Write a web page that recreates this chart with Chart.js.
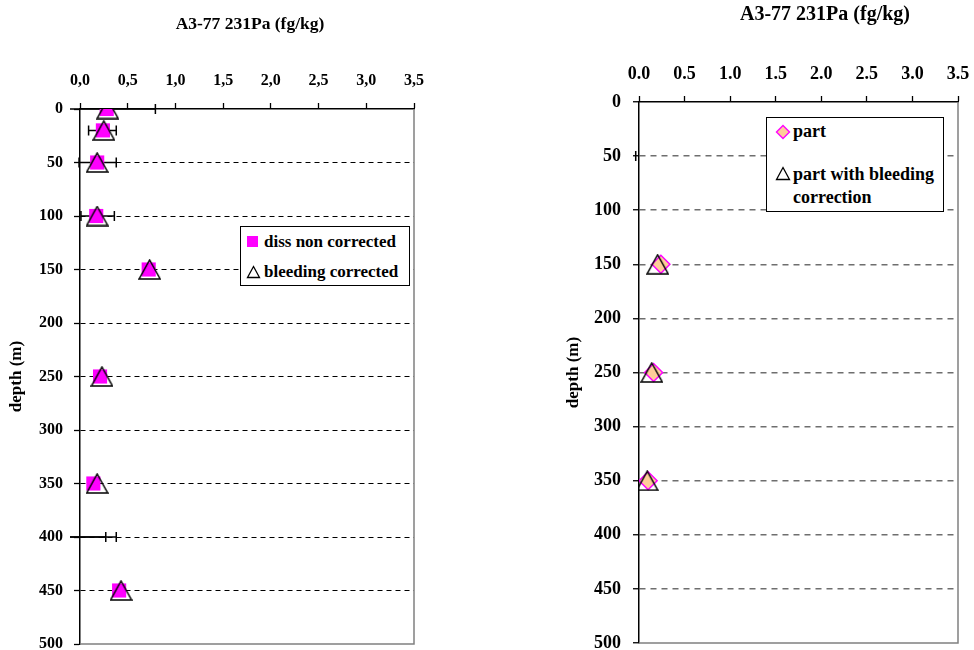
<!DOCTYPE html>
<html>
<head>
<meta charset="utf-8">
<script src="https://cdn.jsdelivr.net/npm/chart.js@4.4.1/dist/chart.umd.min.js"></script>
<style>
  body { margin: 0; background: #fff; width: 974px; height: 650px; position: relative; overflow: hidden; font-family: "Liberation Serif", "Times New Roman", serif; font-weight: bold; color: #000; }
  .box { position: absolute; }
  .title { position: absolute; white-space: nowrap; line-height: 20px; transform: translateX(-50%); }
  .legend { position: absolute; border: 1px solid #000; background: #fff; box-sizing: border-box; }
  .lg-text { position: absolute; white-space: nowrap; }
  .lg-mark { position: absolute; }
</style>
</head>
<body>
<div class="box" style="left:0;top:0;width:430px;height:657px"><canvas id="leftChart" width="430" height="657"></canvas></div>
<div class="box" style="left:560px;top:0;width:414px;height:656px"><canvas id="rightChart" width="414" height="656"></canvas></div>

<div class="title" style="left:250px;top:13px;font-size:17.5px">A3-77 231Pa (fg/kg)</div>
<div class="title" style="left:825px;top:3px;font-size:20px">A3-77 231Pa (fg/kg)</div>

<!-- left legend -->
<div class="legend" style="left:240px;top:226px;width:170px;height:60px"></div>
<svg class="lg-mark" style="left:247px;top:236px" width="12" height="12"><rect x="0" y="0" width="11" height="11" fill="#ff00ff"/></svg>
<div class="lg-text" style="left:264px;top:231px;font-size:17px;line-height:21px">diss non corrected</div>
<svg class="lg-mark" style="left:246px;top:265px" width="15" height="14"><polygon points="7.5,1.5 13.5,12.5 1.5,12.5" fill="none" stroke="#000" stroke-width="1.3"/></svg>
<div class="lg-text" style="left:264px;top:261px;font-size:17px;line-height:21px">bleeding corrected</div>

<!-- right legend -->
<div class="legend" style="left:766px;top:117px;width:178px;height:95px"></div>
<svg class="lg-mark" style="left:775px;top:124px" width="16" height="16"><polygon points="8,1.5 14.5,8 8,14.5 1.5,8" fill="#ffcc99" stroke="#ff00ff" stroke-width="1.4"/></svg>
<div class="lg-text" style="left:793px;top:120px;font-size:18px;line-height:23px">part</div>
<svg class="lg-mark" style="left:775px;top:166px" width="16" height="15"><polygon points="8,1.5 14.5,13.5 1.5,13.5" fill="none" stroke="#000" stroke-width="1.3"/></svg>
<div class="lg-text" style="left:793px;top:163px;font-size:18px;line-height:23px">part with bleeding<br>correction</div>

<script>
// ---- left panel: dissolved 231Pa ----
const leftDepth = [0, 20, 50, 100, 150, 250, 350, 450];
const dissNonCorrected = [0.28, 0.24, 0.18, 0.17, 0.72, 0.21, 0.14, 0.41];
const bleedingCorrected = [0.29, 0.25, 0.18, 0.18, 0.73, 0.23, 0.18, 0.43];

// error bars (left panel)
const errDepth = [0, 20, 50, 100, 400, 400];
const errLow = [-0.5, 0.09, -0.01, 0.01, -0.5, -0.5];
const errHigh = [0.79, 0.38, 0.38, 0.36, 0.27, 0.38];

// ---- right panel: particulate 231Pa ----
const rightDepth = [150, 250, 350];
const partValues = [0.24, 0.16, 0.10];
const partBleedValues = [0.205, 0.14, 0.09];
const rightErrDepth = [50];
const rightErrLow = [-0.036];
const rightErrHigh = [-0.036];

// axis tick labels
const leftXTicks = ['0,0', '0,5', '1,0', '1,5', '2,0', '2,5', '3,0', '3,5'];
const rightXTicks = ['0.0', '0.5', '1.0', '1.5', '2.0', '2.5', '3.0', '3.5'];

const serif = "'Liberation Serif', 'Times New Roman', serif";

function toPoints(xs, ys) {
  return ys.map((d, i) => ({ x: xs[i], y: d }));
}

// open triangle marker, centred on the point (Excel style)
function triangleMarker(w, h) {
  const c = document.createElement('canvas');
  c.width = w + 2;
  c.height = h + 2;
  const g = c.getContext('2d');
  g.strokeStyle = '#000';
  g.lineWidth = 1.5;
  g.beginPath();
  g.moveTo(c.width / 2, 1);
  g.lineTo(c.width - 1, c.height - 1);
  g.lineTo(1, c.height - 1);
  g.closePath();
  g.stroke();
  return c;
}
const triMark = triangleMarker(21, 19);

// horizontal error bars, drawn under the markers
const errorBarPlugin = {
  id: 'errorBars',
  beforeDatasetsDraw(chart, args, opts) {
    if (!opts || !opts.depth) return;
    const { ctx, chartArea, scales } = chart;
    const xs = scales.x, ys = scales.y;
    ctx.save();
    ctx.beginPath();
    ctx.rect(chartArea.left - 10, chartArea.top - 12, chartArea.right - chartArea.left + 20, chartArea.bottom - chartArea.top + 24);
    ctx.clip();
    ctx.strokeStyle = '#000';
    ctx.lineWidth = 1.5;
    opts.depth.forEach((d, i) => {
      const py = ys.getPixelForValue(d);
      const x1 = xs.getPixelForValue(opts.low[i]);
      const x2 = xs.getPixelForValue(opts.high[i]);
      ctx.beginPath();
      ctx.moveTo(x1, py); ctx.lineTo(x2, py);
      ctx.moveTo(x1, py - opts.cap); ctx.lineTo(x1, py + opts.cap);
      ctx.moveTo(x2, py - opts.cap); ctx.lineTo(x2, py + opts.cap);
      ctx.stroke();
    });
    ctx.restore();
  }
};

// grey right/bottom frame of the plot area
const framePlugin = {
  id: 'frame',
  beforeDatasetsDraw(chart) {
    const { ctx, chartArea: a } = chart;
    ctx.save();
    ctx.strokeStyle = '#808080';
    ctx.lineWidth = 1.5;
    ctx.beginPath();
    ctx.moveTo(a.right, a.top);
    ctx.lineTo(a.right, a.bottom);
    ctx.lineTo(a.left, a.bottom);
    ctx.stroke();
    ctx.restore();
  }
};

function makeOptions(cfg) {
  return {
    responsive: false,
    animation: false,
    devicePixelRatio: 1,
    layout: { padding: { left: 0, right: cfg.padRight, top: 0, bottom: cfg.padBottom } },
    plugins: {
      legend: { display: false },
      tooltip: { enabled: false },
      title: { display: false },
      errorBars: { depth: cfg.errDepth, low: cfg.errLow, high: cfg.errHigh, cap: 5 }
    },
    scales: {
      x: {
        type: 'linear',
        position: 'top',
        min: 0,
        max: 3.5,
        afterFit: s => { s.height = cfg.xHeight; s.paddingLeft = 0; s.paddingRight = 0; },
        ticks: {
          stepSize: 0.5,
          color: '#000',
          padding: cfg.xPad,
          maxRotation: 0,
          font: { family: serif, size: cfg.tickSize, weight: 'bold' },
          callback: (v, i) => cfg.xLabels[i]
        },
        grid: { drawOnChartArea: false, drawTicks: true, tickLength: 6, tickColor: '#000', tickWidth: 1.3 },
        border: { display: true, color: '#000', width: 1.5 }
      },
      y: {
        type: 'linear',
        reverse: true,
        min: 0,
        max: 500,
        afterFit: s => { s.width = cfg.yWidth; s.paddingTop = 0; s.paddingBottom = 0; },
        ticks: {
          stepSize: 50,
          color: '#000',
          padding: cfg.yPad,
          font: { family: serif, size: cfg.tickSize, weight: 'bold' }
        },
        grid: {
          color: c => (c.tick && (c.tick.value === 0 || c.tick.value === 500)) ? 'rgba(0,0,0,0)' : cfg.gridColor,
          lineWidth: cfg.gridWidth,
          tickLength: 6,
          tickColor: '#000',
          tickWidth: 1.3
        },
        border: { display: true, color: '#000', width: 1.5, dash: cfg.dash },
        title: {
          display: true,
          text: 'depth (m)',
          color: '#000',
          padding: { top: cfg.titlePad, bottom: 0 },
          font: { family: serif, size: 17, weight: 'bold' }
        }
      }
    }
  };
}

new Chart(document.getElementById('leftChart').getContext('2d'), {
  type: 'scatter',
  data: {
    datasets: [
      {
        label: 'bleeding corrected',
        data: toPoints(bleedingCorrected, leftDepth),
        pointStyle: triMark,
        pointRadius: 12,
        order: 0
      },
      {
        label: 'diss non corrected',
        data: toPoints(dissNonCorrected, leftDepth),
        pointStyle: 'rect',
        pointRadius: 10,
        backgroundColor: '#ff00ff',
        borderColor: '#ff00ff',
        borderWidth: 0,
        order: 1
      }
    ]
  },
  options: makeOptions({
    padRight: 16, padBottom: 2, xHeight: 109, yWidth: 80,
    xPad: 13, yPad: 11, tickSize: 16, titlePad: 6,
    xLabels: leftXTicks, gridColor: '#000', gridWidth: 1, dash: [5, 4],
    errDepth: errDepth, errLow: errLow, errHigh: errHigh
  }),
  plugins: [framePlugin, errorBarPlugin]
});

new Chart(document.getElementById('rightChart').getContext('2d'), {
  type: 'scatter',
  data: {
    datasets: [
      {
        label: 'part with bleeding correction',
        data: toPoints(partBleedValues, rightDepth),
        pointStyle: triMark,
        pointRadius: 12,
        order: 0
      },
      {
        label: 'part',
        data: toPoints(partValues, rightDepth),
        pointStyle: 'rectRot',
        pointRadius: 9,
        backgroundColor: '#ffcc99',
        borderColor: '#ff00ff',
        borderWidth: 1.5,
        order: 1
      }
    ]
  },
  options: makeOptions({
    padRight: 16, padBottom: 3, xHeight: 102, yWidth: 79,
    xPad: 11, yPad: 12, tickSize: 18, titlePad: 3,
    xLabels: rightXTicks, gridColor: '#6e6e6e', gridWidth: 1.5, dash: [6, 5],
    errDepth: rightErrDepth, errLow: rightErrLow, errHigh: rightErrHigh
  }),
  plugins: [framePlugin, errorBarPlugin]
});
</script>
</body>
</html>
